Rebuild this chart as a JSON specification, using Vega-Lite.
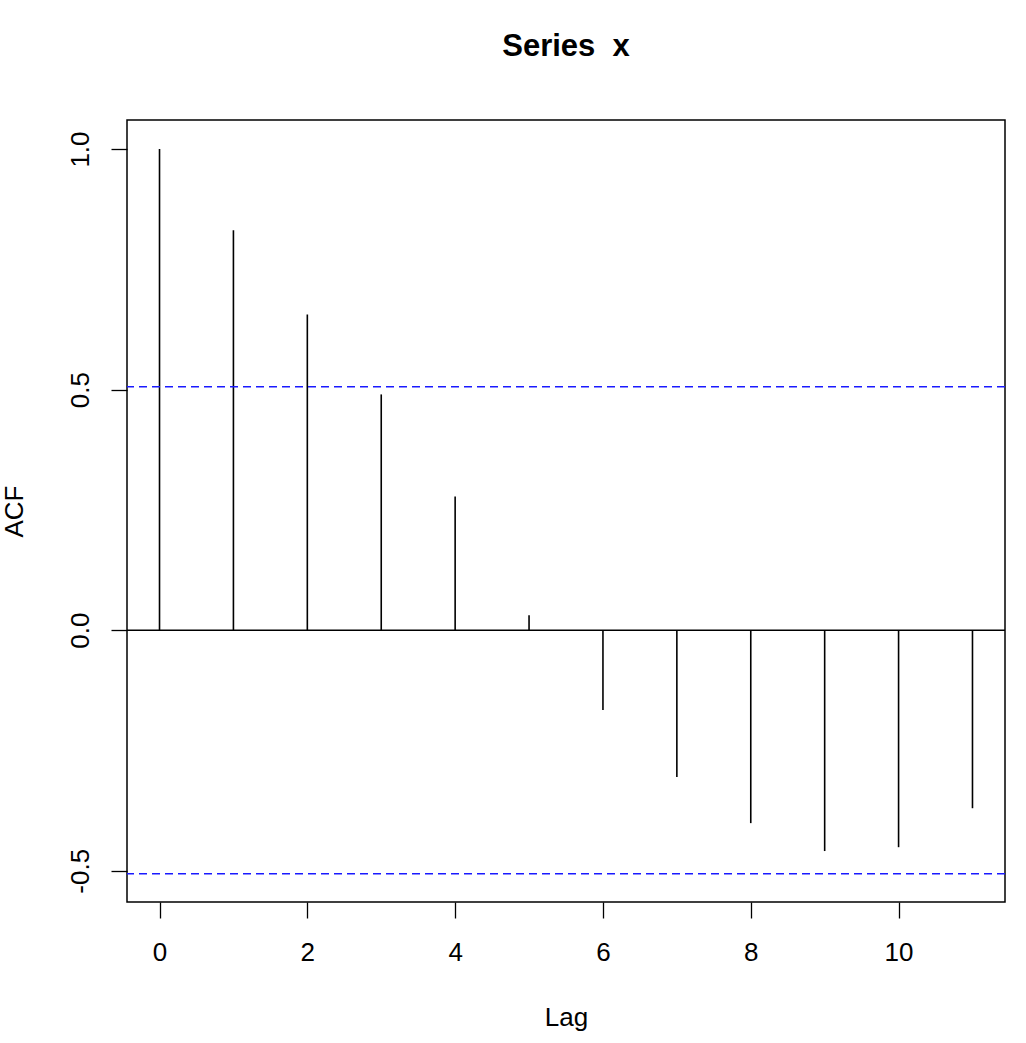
{
  "$schema": "https://vega.github.io/schema/vega-lite/v6.json",
  "description": "ACF plot of series x with 95% confidence bounds.",
  "autosize": "none",
  "width": 878,
  "height": 782,
  "padding": {"left": 127, "top": 120, "right": 21, "bottom": 141},
  "background": "white",
  "config": {
    "font": "Liberation Sans",
    "view": {"stroke": "#000", "strokeWidth": 1.5},
    "axis": {
      "domain": false,
      "grid": false,
      "ticks": true,
      "tickSize": 16,
      "tickColor": "#000",
      "tickWidth": 1.3,
      "labelColor": "#000",
      "labelFont": "Liberation Sans",
      "labelFontSize": 26,
      "titleColor": "#000",
      "titleFont": "Liberation Sans",
      "titleFontSize": 26,
      "titleFontWeight": "normal"
    }
  },
  "title": {
    "text": "Series \u00a0x",
    "font": "Liberation Sans",
    "fontSize": 31,
    "fontWeight": "bold",
    "color": "#000",
    "anchor": "middle",
    "baseline": "alphabetic",
    "offset": 33
  },
  "layer": [
    {
      "data": {
        "values": [
          {"lag": 0, "acf": 1.0},
          {"lag": 1, "acf": 0.831},
          {"lag": 2, "acf": 0.656},
          {"lag": 3, "acf": 0.49},
          {"lag": 4, "acf": 0.278},
          {"lag": 5, "acf": 0.031},
          {"lag": 6, "acf": -0.166},
          {"lag": 7, "acf": -0.305},
          {"lag": 8, "acf": -0.401},
          {"lag": 9, "acf": -0.459},
          {"lag": 10, "acf": -0.451},
          {"lag": 11, "acf": -0.37}
        ]
      },
      "mark": {"type": "rule", "color": "#000", "strokeWidth": 1.6},
      "encoding": {
        "x": {
          "field": "lag",
          "type": "quantitative",
          "scale": {"domain": [-0.44, 11.44], "nice": false, "zero": false},
          "axis": {"values": [0, 2, 4, 6, 8, 10], "labelPadding": 21, "title": "Lag", "titlePadding": 39}
        },
        "y": {
          "field": "acf",
          "type": "quantitative",
          "scale": {"domain": [-0.5649, 1.0603], "nice": false, "zero": false},
          "axis": {
            "values": [-0.5, 0, 0.5, 1],
            "format": ".1f",
            "labelExpr": "replace(datum.label, '\u2212', '-')",
            "labelAngle": -90,
            "labelAlign": "center",
            "labelBaseline": "alphabetic",
            "labelPadding": 23,
            "title": "ACF",
            "titlePadding": 40
          }
        },
        "y2": {"datum": 0}
      }
    },
    {
      "data": {"values": [{"level": 0}]},
      "mark": {"type": "rule", "color": "#000", "strokeWidth": 1.5},
      "encoding": {"y": {"field": "level", "type": "quantitative"}}
    },
    {
      "data": {"values": [{"level": 0.506}, {"level": -0.506}]},
      "mark": {"type": "rule", "color": "#1a1aff", "strokeWidth": 1.5, "strokeDash": [8, 5]},
      "encoding": {"y": {"field": "level", "type": "quantitative"}}
    }
  ]
}
